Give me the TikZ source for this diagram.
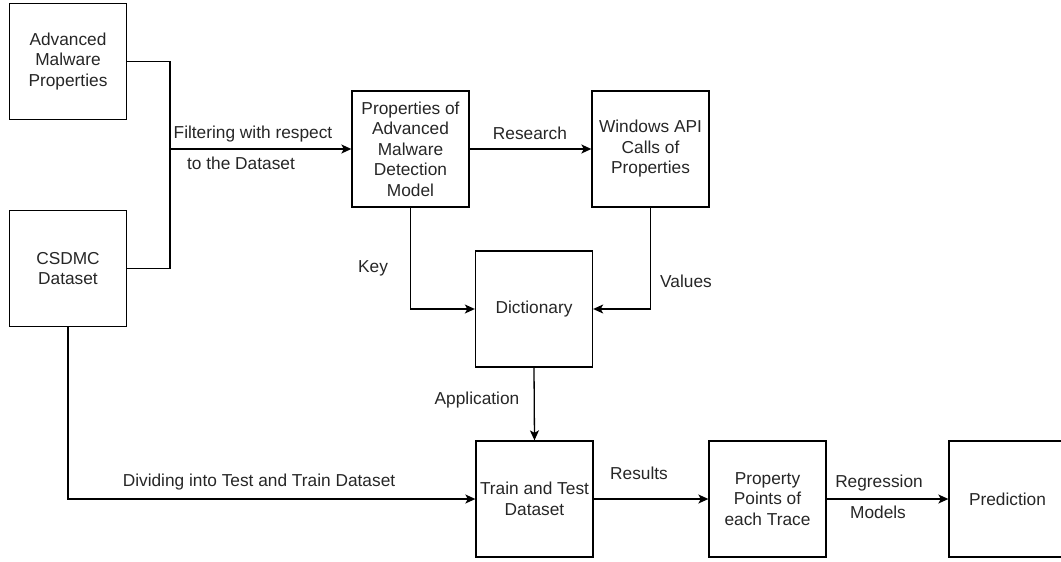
\documentclass[tikz,border=0pt]{standalone}
\usepackage{fontspec}
\setmainfont{Liberation Sans}
\usetikzlibrary{arrows.meta}
\begin{document}
\begin{tikzpicture}[x=1pt,y=-1pt,
  box/.style={draw,line width=1.3pt,minimum width=117pt,minimum height=116pt,inner sep=0pt,align=center,text=black!85,font=\fontsize{17.3}{20.5}\selectfont},
  lbl/.style={inner sep=0pt,text=black!85,font=\fontsize{17.3}{20.5}\selectfont},
  line/.style={line width=1.3pt},
  arr/.style={line width=1.3pt,-{Stealth[length=10pt,width=9pt,inset=2.5pt]}}]
\useasboundingbox (0,0) rectangle (1061,562);
\node[box] (amp) at (68,61.5) {Advanced\\Malware\\Properties};
\node[box] (csdmc) at (68,268.5) {CSDMC\\Dataset};
\node[box] (pam) at (410.5,149) {Properties of\\Advanced\\Malware\\Detection\\Model};
\node[box] (win) at (650.5,149) {Windows API\\Calls of\\Properties};
\node[box] (dict) at (534,309) {Dictionary};
\node[box] (train) at (534.5,499) {Train and Test\\Dataset};
\node[box] (ppt) at (767.5,499) {Property\\Points of\\each Trace};
\node[box] (pred) at (1007.5,499) {Prediction};
\coordinate (j) at (170,149);
\draw[line] (amp.east) -| (j) |- (csdmc.east);
\draw[arr] (j) -- (pam.west);
\draw[arr] (pam.east) -- (win.west);
\draw[arr] (pam.south) |- (dict.west);
\draw[arr] (win.south) |- (dict.east);
\draw[arr] (dict.south) -- (train.north);
\draw[arr] (csdmc.south) |- (train.west);
\draw[arr] (train.east) -- (ppt.west);
\draw[arr] (ppt.east) -- (pred.west);
\node[lbl] (l1) at (253,134) {Filtering with respect};
\node[lbl] (l2) at (241,163) {to the Dataset};
\node[lbl] (l3) at (530,133) {Research};
\node[lbl] (l4) at (373,268) {Key};
\node[lbl] (l5) at (686,281) {Values};
\node[lbl] (l6) at (477,400) {Application};
\node[lbl] (l7) at (259,482) {Dividing into Test and Train Dataset};
\node[lbl] (l8) at (639,473) {Results};
\node[lbl] (l9) at (879,483) {Regression};
\node[lbl] (l10) at (878,512) {Models};
\end{tikzpicture}
\end{document}
